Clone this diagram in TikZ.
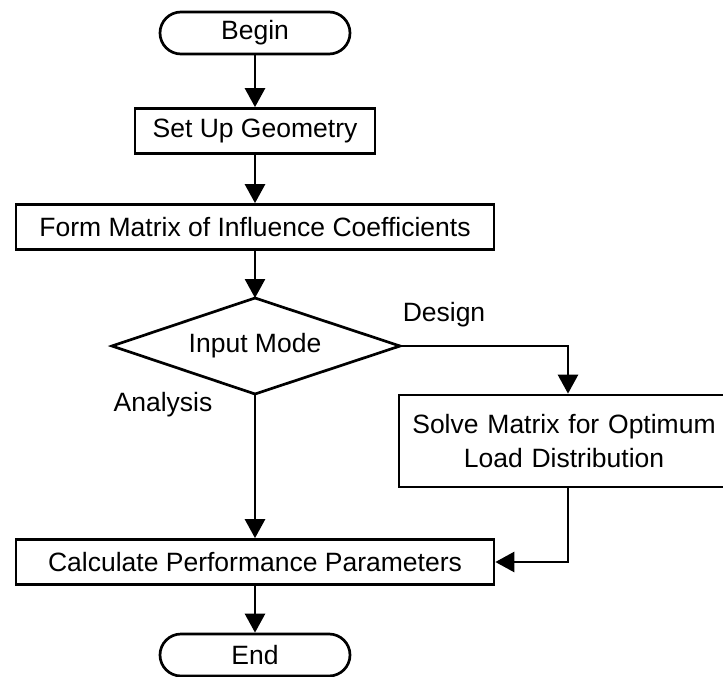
\documentclass[tikz,border=0pt]{standalone}
\usepackage{fontspec}
\setmainfont{Liberation Sans}
\usetikzlibrary{shapes.geometric,shapes.misc,arrows.meta}
\tikzset{
  base/.style={draw=black, line width=2.7pt, inner sep=0pt, align=center,
    font=\fontsize{26.5}{34}\selectfont},
  procbox/.style={base, rectangle},
  termbox/.style={base, rounded rectangle, minimum width=190pt, minimum height=42pt},
  lbl/.style={font=\fontsize{26.5}{34}\selectfont, inner sep=0pt},
  conn/.style={line width=2.7pt, -{Triangle[width=20pt,length=19pt]}}
}
\begin{document}
\begin{tikzpicture}[x=1pt,y=-1pt]
\clip (0,0) rectangle (723,677);
\fill[white] (0,0) rectangle (723,677);
\node[termbox] (begin) at (255,33) {Begin};
\node[procbox, minimum width=240pt, minimum height=45pt] (setup) at (255,131) {Set Up Geometry};
\node[procbox, minimum width=478pt, minimum height=45pt] (form) at (255,227) {Form Matrix of Influence Coefficients};
\draw[line width=2.7pt, fill=white] (112,346) -- (255,298) -- (400,346) -- (255,394) -- cycle;
\node[lbl] (mode) at (255,346) {Input Mode};
\coordinate (dtop) at (255,298);
\coordinate (deast) at (400,346);
\coordinate (dsouth) at (255,394);
\node[lbl] (design) at (444,315) {Design};
\node[lbl, anchor=base] (analysis) at (163,411) {Analysis};
\node[procbox, minimum width=330pt, minimum height=92pt, text width=310pt] (solve) at (564,441) {Solve Matrix for Optimum\\Load Distribution};
\node[procbox, minimum width=478pt, minimum height=45pt] (calc) at (255,562) {Calculate Performance Parameters};
\node[termbox] (end) at (255,655) {End};
\coordinate (cornerA) at (568,346);
\coordinate (cornerB) at (568,562);
\draw[conn] (begin.south) -- (setup.north);
\draw[conn] (setup.south) -- (form.north);
\draw[conn] (form.south) -- (dtop);
\draw[conn] (deast) -- (cornerA) -- (solve.north -| cornerA);
\draw[conn] (dsouth) -- (calc.north -| dsouth);
\draw[conn] (solve.south -| cornerB) -- (cornerB) -- (calc.east);
\draw[conn] (calc.south) -- (end.north);
\end{tikzpicture}
\end{document}
